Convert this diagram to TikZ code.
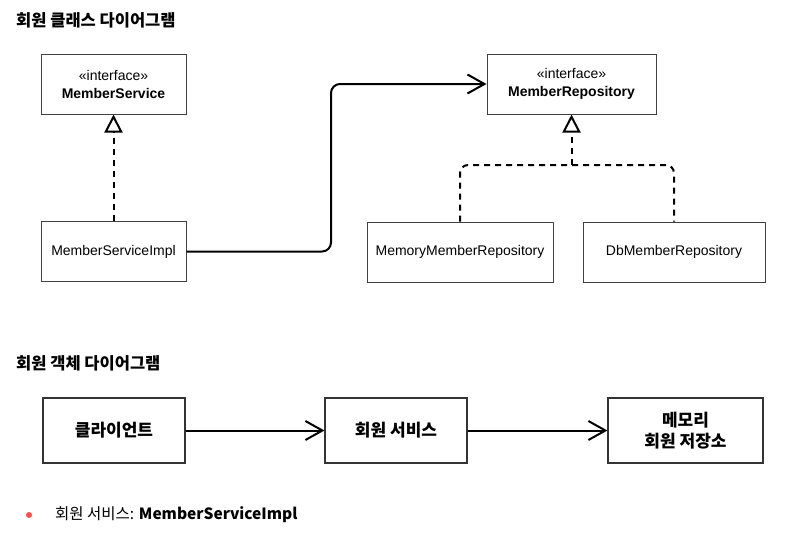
\documentclass[tikz,border=0pt]{standalone}
\usepackage{fontspec}
\setmainfont{Liberation Sans}
\newfontfamily\kr{Noto Sans CJK KR}
\usepackage{tikz}
\usetikzlibrary{positioning,arrows.meta}
\tikzset{
	cls/.style={
		rectangle,
		draw=black!75,
		line width=1pt,
		minimum height=60pt,
		align=center,
		font=\fontsize{14}{18}\selectfont
	},
	obj/.style={
		rectangle,
		draw=black!80,
		line width=1.1pt,
		minimum width=142pt,
		minimum height=65pt,
		align=center,
		font=\kr\bfseries\fontsize{17}{21.5}\selectfont
	},
	realize/.style={
		line width=2pt,
		dash pattern=on 6pt off 5pt,
		-{Triangle[open,length=18pt,width=18pt]}
	},
	assoc/.style={
		line width=2pt,
		-{Straight Barb[length=17pt,width=19pt]}
	},
	heading/.style={anchor=west, inner sep=0pt, font=\kr\bfseries\fontsize{16.5}{19}\selectfont}
}
\begin{document}
\begin{tikzpicture}[x=1pt, y=-1pt]
	\useasboundingbox (0,0) rectangle (799,541);
	\node [heading] (title1) at (16,20) {회원 클래스 다이어그램};
	\node [cls, minimum width=145pt] (service) at (113.5,84) {«interface»\\\textbf{MemberService}};
	\node [cls, minimum width=145pt] (serviceimpl) at (113.5,251.5) {MemberServiceImpl};
	\node [cls, minimum width=169pt] (repo) at (571.5,84) {«interface»\\\textbf{MemberRepository}};
	\node [cls, minimum width=186pt] (memrepo) at (460,252) {MemoryMemberRepository};
	\node [cls, minimum width=182pt] (dbrepo) at (674,252) {DbMemberRepository};
	\coordinate (join) at (571.5,165);
	\coordinate (turn) at (331,0);
	\draw [realize] (serviceimpl.north) -- (service.south);
	\draw [realize] (join) -- (repo.south);
	\draw [line width=2pt, dash pattern=on 6pt off 5pt, rounded corners=8pt] (memrepo.north) |- (join) -| (dbrepo.north);
	\draw [assoc, rounded corners=9pt] (serviceimpl.east) -- (serviceimpl.east -| turn) -- (turn |- repo.west) -- (repo.west);

	\node [heading] (title2) at (16,363) {회원 객체 다이어그램};
	\node [obj] (client) at (114,430.5) {클라이언트};
	\node [obj] (memberservice) at (396,430.5) {회원 서비스};
	\node [obj, minimum width=155pt] (memorystore) at (685.5,430.5) {메모리\\회원 저장소};
	\draw [assoc] (client) -- (memberservice);
	\draw [assoc] (memberservice) -- (memorystore);

	\node [circle, fill={red!70!white}, inner sep=0pt, minimum size=6pt] (dot) at (29,515) {};
	\node [anchor=west, inner sep=0pt, font=\kr\fontsize{15.5}{18}\selectfont] (note) at (55,515) {회원 서비스: \textbf{MemberServiceImpl}};
\end{tikzpicture}
\end{document}
